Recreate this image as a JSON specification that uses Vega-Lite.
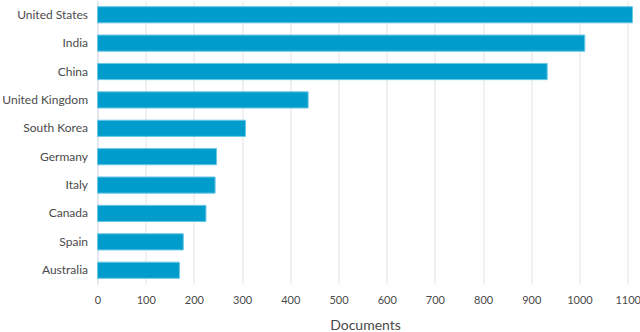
{
  "$schema": "https://vega.github.io/schema/vega-lite/v6.json",
  "autosize": {"type": "none"},
  "padding": {"left": 97.5, "top": 1, "right": 7.5, "bottom": 48},
  "width": 535,
  "height": 283,
  "config": {
    "view": {"stroke": null},
    "font": "Lato"
  },
  "data": {
    "values": [
      {"country": "United States", "documents": 1110},
      {"country": "India", "documents": 1011},
      {"country": "China", "documents": 933},
      {"country": "United Kingdom", "documents": 437},
      {"country": "South Korea", "documents": 307},
      {"country": "Germany", "documents": 247},
      {"country": "Italy", "documents": 244},
      {"country": "Canada", "documents": 225},
      {"country": "Spain", "documents": 178},
      {"country": "Australia", "documents": 170}
    ]
  },
  "mark": {"type": "bar", "color": "#009dcc", "stroke": "#6cc6e6", "strokeWidth": 1},
  "encoding": {
    "y": {
      "field": "country",
      "type": "nominal",
      "sort": {"field": "documents", "order": "descending"},
      "scale": {"paddingInner": 0.43, "paddingOuter": 0.2},
      "axis": {
        "title": null,
        "ticks": false,
        "domain": true,
        "domainColor": "#d5dcea",
        "labelFontSize": 12,
        "labelColor": "#4a4a4a",
        "labelPadding": 10
      }
    },
    "x": {
      "field": "documents",
      "type": "quantitative",
      "scale": {"domain": [0, 1110], "nice": false},
      "axis": {
        "values": [0, 100, 200, 300, 400, 500, 600, 700, 800, 900, 1000, 1100],
        "format": "d",
        "title": "Documents",
        "titleFontSize": 14,
        "titleFontWeight": "normal",
        "titleColor": "#4a4a4a",
        "titlePadding": 13,
        "labelFontSize": 11,
        "labelColor": "#4a4a4a",
        "labelPadding": 10,
        "ticks": false,
        "domain": false,
        "grid": true,
        "gridColor": "#e3e3e3",
        "labelFlush": false
      }
    }
  }
}
